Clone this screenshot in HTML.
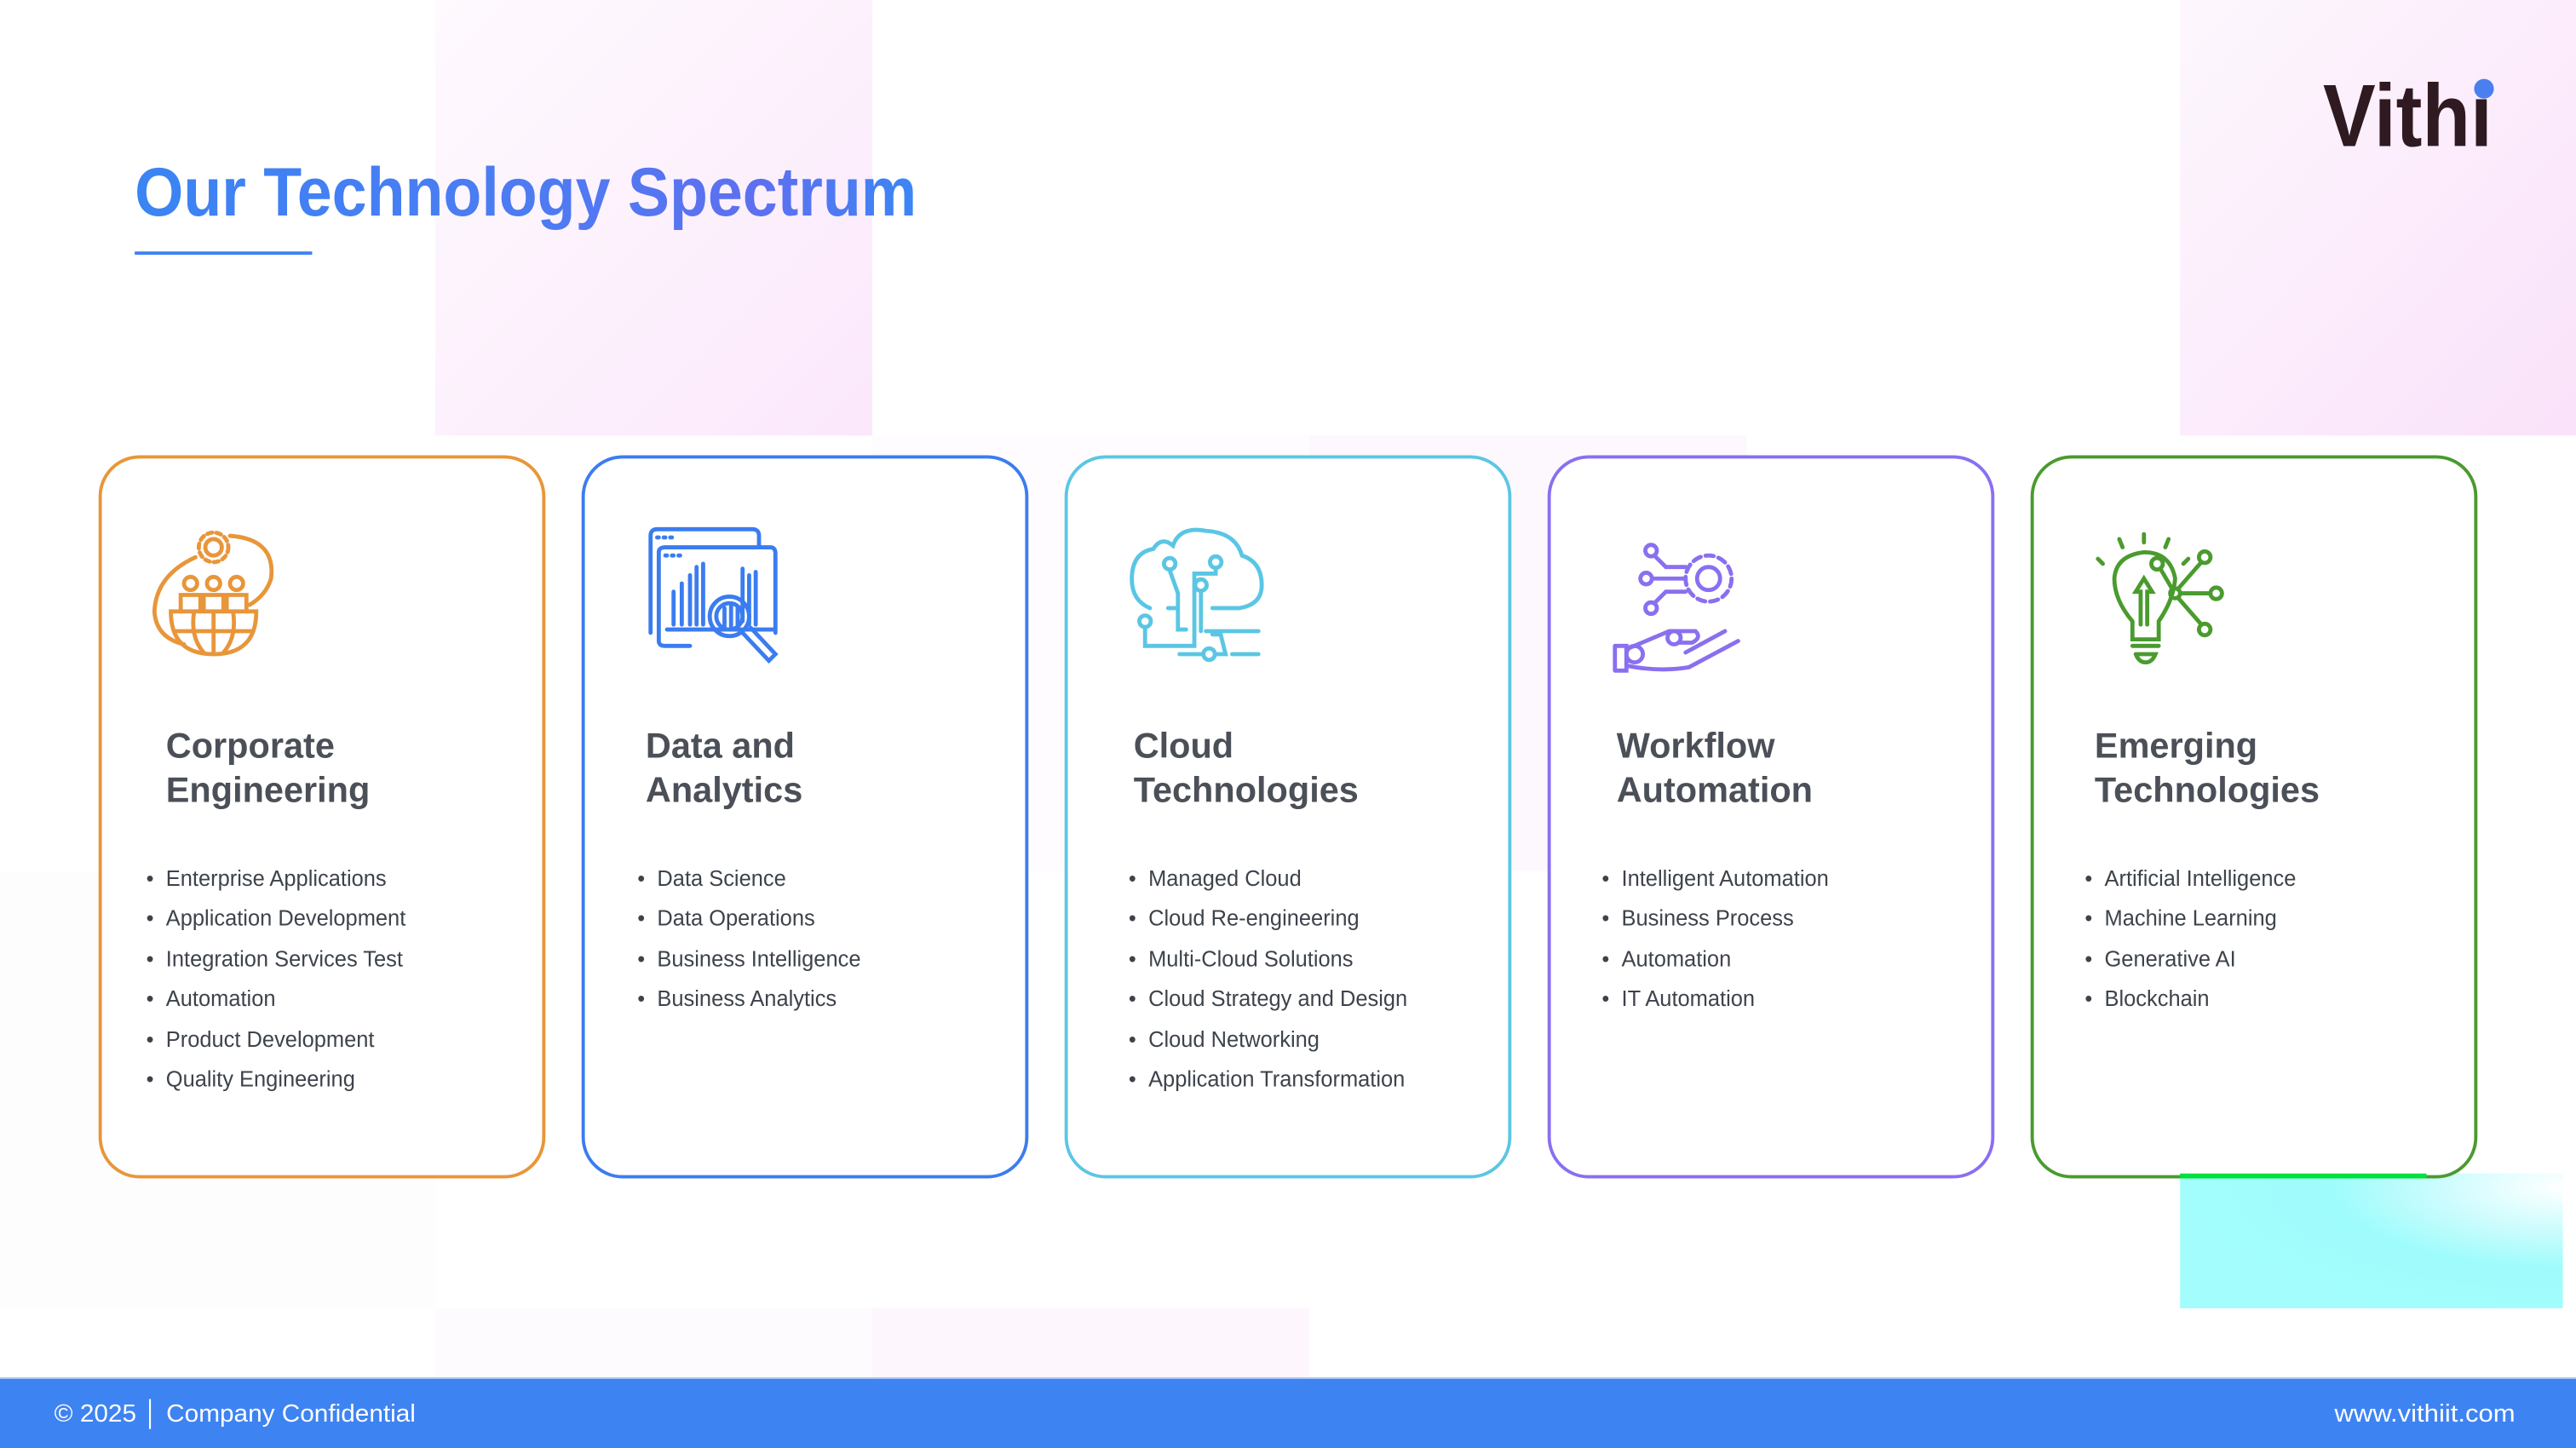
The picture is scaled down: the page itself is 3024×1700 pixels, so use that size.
<!DOCTYPE html>
<html><head><meta charset="utf-8"><style>
html,body{margin:0;padding:0;background:#fff;}
svg{display:block;}
text{font-family:"Liberation Sans",Arial,sans-serif;}
</style></head><body>
<svg width="3024" height="1700" viewBox="0 0 1568 881" preserveAspectRatio="none" xmlns="http://www.w3.org/2000/svg">
<defs>
<linearGradient id="tg" x1="0" x2="1" y1="0" y2="0">
<stop offset="0" stop-color="#3a84f4"/><stop offset="0.55" stop-color="#4f7af2"/><stop offset="0.8" stop-color="#5e6ff0"/><stop offset="1" stop-color="#3b86f4"/>
</linearGradient>
<linearGradient id="pk" x1="0" x2="1" y1="0" y2="1">
<stop offset="0" stop-color="#fefafe"/><stop offset="1" stop-color="#fbe8fb"/>
</linearGradient>
<linearGradient id="pk2" x1="0" x2="1" y1="0" y2="1">
<stop offset="0" stop-color="#fdf7fd"/><stop offset="1" stop-color="#fae2fa"/>
</linearGradient>
<radialGradient id="cy" cx="1" cy="0.1" r="1">
<stop offset="0" stop-color="#ffffff"/><stop offset="0.35" stop-color="#c8fcfd"/><stop offset="0.6" stop-color="#9ffcfc"/><stop offset="1" stop-color="#a3fdfd"/>
</radialGradient>
</defs>
<rect width="1568" height="881" fill="#fff"/>
<rect x="265" y="0" width="266" height="265" fill="url(#pk)"/>
<rect x="1327" y="0" width="241" height="265" fill="url(#pk2)"/>
<rect x="531" y="796" width="266" height="42" fill="#fdf6fd"/>
<rect x="265" y="796" width="266" height="42" fill="#fefbfe"/>
<rect x="531" y="265" width="266" height="265" fill="#fefcfe"/>
<rect x="797" y="265" width="266" height="265" fill="#fdf8fd"/>
<rect x="0" y="530" width="265" height="266" fill="#fdfdfe"/>
<rect x="1327" y="714" width="233" height="82" fill="url(#cy)"/>

<text x="82" y="131" font-size="42" font-weight="bold" fill="url(#tg)" textLength="476" lengthAdjust="spacingAndGlyphs">Our Technology Spectrum</text>
<rect x="82" y="153" width="108" height="2" fill="#3b82f6"/>

<text x="1414" y="89" font-size="54" font-weight="bold" fill="#2e1a20" textLength="103" lengthAdjust="spacingAndGlyphs">Vithı</text>
<circle cx="1512" cy="54" r="6" fill="#4a7ff0"/>

<g fill="#fff" stroke-width="2">
<rect x="61" y="278" width="270" height="438" rx="24" stroke="#e8963a"/>
<rect x="355" y="278" width="270" height="438" rx="24" stroke="#3b7cf0"/>
<rect x="649" y="278" width="270" height="438" rx="24" stroke="#5bc6e4"/>
<rect x="943" y="278" width="270" height="438" rx="24" stroke="#8a6ff0"/>
<rect x="1237" y="278" width="270" height="438" rx="24" stroke="#4a9b2e"/>
</g>
<rect x="1327" y="714" width="150" height="3" fill="#00e040"/>

<g fill="none" stroke="#e8963a" stroke-width="2.5" stroke-linecap="round">
<circle cx="130" cy="333" r="5"/><circle cx="130" cy="333" r="9" stroke-dasharray="3 2.5"/>
<path d="M140 326 Q168 328 165 352 Q162 362 152 368"/>
<path d="M119 339 Q95 350 94 372 Q95 388 112 392"/>
<circle cx="116" cy="355" r="4"/><circle cx="130" cy="355" r="4"/><circle cx="144" cy="355" r="4"/>
<path d="M110 372 V362 H122 V372 M124 372 V362 H136 V372 M138 372 V362 H150 V372"/>
<path d="M104 372 H156 Q156 398 130 398 Q104 398 104 372 Z"/>
<path d="M130 372 V398 M118 373 Q116 388 124 397 M142 373 Q144 388 136 397 M106 384 H154"/>
</g>
<g fill="none" stroke="#3b7cf0" stroke-width="2.5" stroke-linecap="round">
<path d="M396 385 V326 Q396 322 400 322 H458 Q462 322 462 326 V332"/>
<path d="M401 390 V336 Q401 333 405 333 H469 Q472 333 472 337 V385 M401 390 Q401 393 405 393 H420"/>
<path d="M405 338 h1 M409 338 h1 M413 338 h1 M400 327 h1 M404 327 h1 M408 327 h1"/>
<path d="M410 380 V360 M415 380 V355 M420 380 V350 M424 380 V345 M428 380 V343 M452 378 V346 M456 380 V350 M460 380 V348 M406 383 H472"/>
<circle cx="444" cy="375" r="12"/><circle cx="444" cy="375" r="8"/>
<path d="M441 370 V381 M445 369 V381 M449 370 V381 M452 385 L468 402 L472 398 L457 382"/>
</g>
<g fill="none" stroke="#5bc6e4" stroke-width="2.5" stroke-linecap="round">
<path d="M700 370 Q688 365 689 350 Q690 336 702 334 Q707 326 714 332 Q718 320 734 323 Q752 324 756 338 Q768 342 768 356 Q768 368 754 370 H738"/>
<circle cx="712" cy="343" r="3.5"/><circle cx="740" cy="342" r="3.5"/><circle cx="731" cy="356" r="3.5"/><circle cx="697" cy="378" r="3.5"/><circle cx="736" cy="398" r="3.5"/>
<path d="M712 347 L717 361 V383 H722 M740 346 V349 H727 V393 H697 V382 M731 360 V384 M734 384 H766 M711 370 H717 M718 398 H732 M740 398 H746 L743 386 H738 M750 398 H766"/>
</g>
<g fill="none" stroke="#8a6ff0" stroke-width="2.5" stroke-linecap="round">
<circle cx="1040" cy="352" r="7"/>
<circle cx="1040" cy="352" r="14" stroke-dasharray="5 3"/>
<circle cx="1005" cy="335" r="3.5"/><circle cx="1002" cy="352" r="3.5"/><circle cx="1005" cy="370" r="3.5"/>
<path d="M1007 338 L1014 345 H1026 M1006 352 H1026 M1007 367 L1014 360 H1026"/>
<path d="M983 393 V408 M983 393 H990 V408 H983"/>
<circle cx="995" cy="398" r="5"/><circle cx="1019" cy="388" r="4"/>
<path d="M990 395 L1016 384 H1032 Q1036 388 1030 391 H1022 M990 405 Q1010 409 1028 406 L1058 390 M1026 397 L1050 384"/>
</g>
<g fill="none" stroke="#4a9b2e" stroke-width="2.5" stroke-linecap="round">
<path d="M1298 389 V378 Q1287 365 1287 352 Q1288 338 1305 336 Q1321 336 1324 352 Q1323 365 1314 378 V389 Z"/>
<path d="M1298 393 H1314 M1300 398 H1312 Q1310 403 1306 403 Q1302 403 1300 398"/>
<path d="M1303 380 V360 H1300 L1305 352 L1310 360 H1307 V380"/>
<path d="M1305 325 V330 M1290 328 L1292 333 M1320 328 L1318 333 M1277 340 L1280 343 M1332 340 L1329 343"/>
<circle cx="1324" cy="361" r="3"/><circle cx="1313" cy="343" r="3.5"/><circle cx="1342" cy="339" r="3.5"/><circle cx="1349" cy="361" r="3.5"/><circle cx="1342" cy="383" r="3.5"/>
<path d="M1315 346 L1322 358 M1326 358 L1340 342 M1327 361 H1345 M1326 364 L1340 380"/>
</g>

<g font-size="21.5" font-weight="bold" fill="#4b5058">
<text x="101" y="461">Corporate</text><text x="101" y="488">Engineering</text>
<text x="393" y="461">Data and</text><text x="393" y="488">Analytics</text>
<text x="690" y="461">Cloud</text><text x="690" y="488">Technologies</text>
<text x="984" y="461">Workflow</text><text x="984" y="488">Automation</text>
<text x="1275" y="461">Emerging</text><text x="1275" y="488">Technologies</text>
</g>

<g font-size="13.2" fill="#3d434b">
<g>
<text x="89" y="539">•</text><text x="101" y="539">Enterprise Applications</text>
<text x="89" y="563">•</text><text x="101" y="563">Application Development</text>
<text x="89" y="588">•</text><text x="101" y="588">Integration Services Test</text>
<text x="89" y="612">•</text><text x="101" y="612">Automation</text>
<text x="89" y="637">•</text><text x="101" y="637">Product Development</text>
<text x="89" y="661">•</text><text x="101" y="661">Quality Engineering</text>
</g>
<g>
<text x="388" y="539">•</text><text x="400" y="539">Data Science</text>
<text x="388" y="563">•</text><text x="400" y="563">Data Operations</text>
<text x="388" y="588">•</text><text x="400" y="588">Business Intelligence</text>
<text x="388" y="612">•</text><text x="400" y="612">Business Analytics</text>
</g>
<g>
<text x="687" y="539">•</text><text x="699" y="539">Managed Cloud</text>
<text x="687" y="563">•</text><text x="699" y="563">Cloud Re-engineering</text>
<text x="687" y="588">•</text><text x="699" y="588">Multi-Cloud Solutions</text>
<text x="687" y="612">•</text><text x="699" y="612">Cloud Strategy and Design</text>
<text x="687" y="637">•</text><text x="699" y="637">Cloud Networking</text>
<text x="687" y="661">•</text><text x="699" y="661">Application Transformation</text>
</g>
<g>
<text x="975" y="539">•</text><text x="987" y="539">Intelligent Automation</text>
<text x="975" y="563">•</text><text x="987" y="563">Business Process</text>
<text x="975" y="588">•</text><text x="987" y="588">Automation</text>
<text x="975" y="612">•</text><text x="987" y="612">IT Automation</text>
</g>
<g>
<text x="1269" y="539">•</text><text x="1281" y="539">Artificial Intelligence</text>
<text x="1269" y="563">•</text><text x="1281" y="563">Machine Learning</text>
<text x="1269" y="588">•</text><text x="1281" y="588">Generative AI</text>
<text x="1269" y="612">•</text><text x="1281" y="612">Blockchain</text>
</g>
</g>

<rect x="0" y="838" width="1568" height="43" fill="#3e83f2"/>
<rect x="0" y="838" width="1568" height="1" fill="#a9c8f8"/>
<text x="33" y="865" font-size="15" fill="#fff" textLength="220" lengthAdjust="spacingAndGlyphs">© 2025 │ Company Confidential</text>
<text x="1421" y="865" font-size="15" fill="#fff" textLength="110" lengthAdjust="spacingAndGlyphs">www.vithiit.com</text>
</svg>
</body></html>
